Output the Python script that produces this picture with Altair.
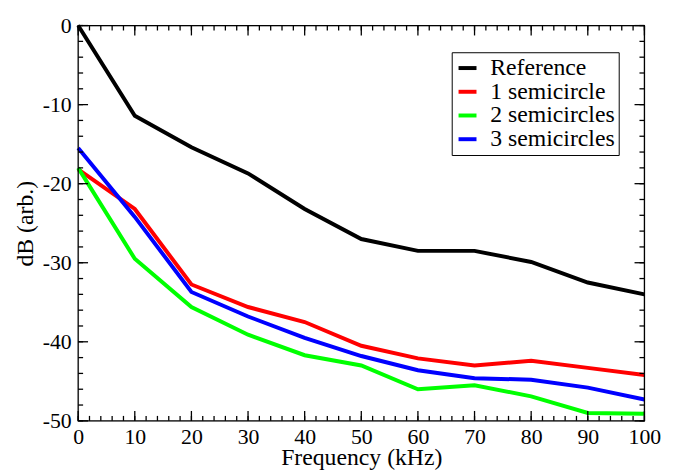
import altair as alt
import pandas as pd

freq = [0, 10, 20, 30, 40, 50, 60, 70, 80, 90, 100]
reference = [0.0, -11.4, -15.4, -18.7, -23.2, -27.0, -28.5, -28.5, -29.9, -32.5, -34.0]
semi1 = [-18.2, -23.2, -32.75, -35.6, -37.5, -40.5, -42.1, -43.0, -42.4, -43.3, -44.2]
semi2 = [-18.0, -29.5, -35.6, -39.1, -41.7, -43.0, -46.0, -45.5, -46.9, -49.0, -49.1]
semi3 = [-15.5, -24.2, -33.7, -36.8, -39.5, -41.8, -43.6, -44.6, -44.8, -45.8, -47.3]

series_names = ["Reference", "1 semicircle", "2 semicircles", "3 semicircles"]
series_values = [reference, semi1, semi2, semi3]
series_colors = ["#000000", "#ff0000", "#00ff00", "#0000ff"]
series_widths = [4, 4, 2.5, 4]

x_major = list(range(0, 101, 10))
x_minor = list(range(0, 101, 2))
y_major = list(range(-50, 1, 10))
y_minor = list(range(-50, 1, 2))
x_range = [0, 100]
y_range = [-50, 0]

rows = []
for name, vals in zip(series_names, series_values):
    for f, v in zip(freq, vals):
        rows.append({"freq": f, "db": v, "series": name})
df = pd.DataFrame(rows)

W, H = 573, 400
FONT = "Liberation Serif, Times New Roman, Nimbus Roman, DejaVu Serif, serif"
AXFONT = "Liberation Serif"
xs = alt.Scale(domain=x_range, nice=False, zero=False)
ys = alt.Scale(domain=y_range, nice=False, zero=False)

x_axis = alt.Axis(
    values=x_major, title="Frequency (kHz)", ticks=False, domain=False, grid=False,
    labelPadding=6, titlePadding=-2, labelFlush=False, labelOverlap=False,
    labelFont=AXFONT, labelFontSize=22, labelColor="black",
    titleFont=AXFONT, titleFontSize=24, titleFontWeight="normal", titleColor="black")
y_axis = alt.Axis(
    values=y_major, title="dB (arb.)", ticks=False, domain=False, grid=False,
    labelPadding=7, titlePadding=5, labelFlush=False, labelOverlap=False,
    labelExpr="'' + datum.value",
    labelFont=AXFONT, labelFontSize=22, labelColor="black",
    titleFont=AXFONT, titleFontSize=24, titleFontWeight="normal", titleColor="black")

leg = alt.Legend(
    title=None, orient="none", legendX=378, legendY=27, direction="vertical",
    fillColor="white", strokeColor="black", padding=4, cornerRadius=0,
    symbolType="stroke", symbolSize=330, labelFont=FONT, labelFontSize=24,
    labelColor="black", labelOffset=11, rowPadding=0,
)

frame = alt.Chart(pd.DataFrame({"a": [0]})).mark_rect(
    fill=None, stroke="black", strokeWidth=1.3
).encode(
    x=alt.XDatum(x_range[0], scale=xs, axis=x_axis),
    x2=alt.X2Datum(x_range[1]),
    y=alt.YDatum(y_range[0], scale=ys, axis=y_axis),
    y2=alt.Y2Datum(y_range[1]),
)

lines = alt.Chart(df).mark_line().encode(
    x=alt.X("freq:Q", scale=xs, axis=x_axis),
    y=alt.Y("db:Q", scale=ys, axis=y_axis),
    color=alt.Color("series:N", scale=alt.Scale(domain=series_names, range=series_colors), legend=leg),
    strokeWidth=alt.StrokeWidth("series:N", scale=alt.Scale(domain=series_names, range=series_widths), legend=leg),
)


def x_ticks(vals, edge, size, shift):
    d = pd.DataFrame({"freq": vals})
    return alt.Chart(d).mark_tick(
        orient="vertical", size=size, thickness=1.3, color="black", opacity=1, yOffset=shift
    ).encode(
        x=alt.X("freq:Q", scale=xs, axis=x_axis),
        y=alt.YDatum(edge, scale=ys, axis=y_axis),
    )


def y_ticks(vals, edge, size, shift):
    d = pd.DataFrame({"db": vals})
    return alt.Chart(d).mark_tick(
        orient="horizontal", size=size, thickness=1.3, color="black", opacity=1, xOffset=shift
    ).encode(
        y=alt.Y("db:Q", scale=ys, axis=y_axis),
        x=alt.XDatum(edge, scale=xs, axis=x_axis),
    )


layers = [
    lines,
    frame,
    x_ticks(x_major, -50, 10, -5), x_ticks(x_minor, -50, 5, -2.5),
    x_ticks(x_major, 0, 10, 5), x_ticks(x_minor, 0, 5, 2.5),
    y_ticks(y_major, 0, 10, 5), y_ticks(y_minor, 0, 5, 2.5),
    y_ticks(y_major, 100, 10, -5), y_ticks(y_minor, 100, 5, -2.5),
]

chart = alt.layer(*layers).properties(
    width=W, height=H,
    autosize=alt.AutoSizeParams(type="none"),
    padding={"left": 71, "top": 15, "right": 35, "bottom": 50},
).configure(
    font=FONT,
    axis={"labelFont": AXFONT, "titleFont": AXFONT},
    style={"guide-label": {"font": AXFONT}, "guide-title": {"font": AXFONT}},
)

chart.save("out.html", embed_options={"renderer": "svg", "actions": False})
